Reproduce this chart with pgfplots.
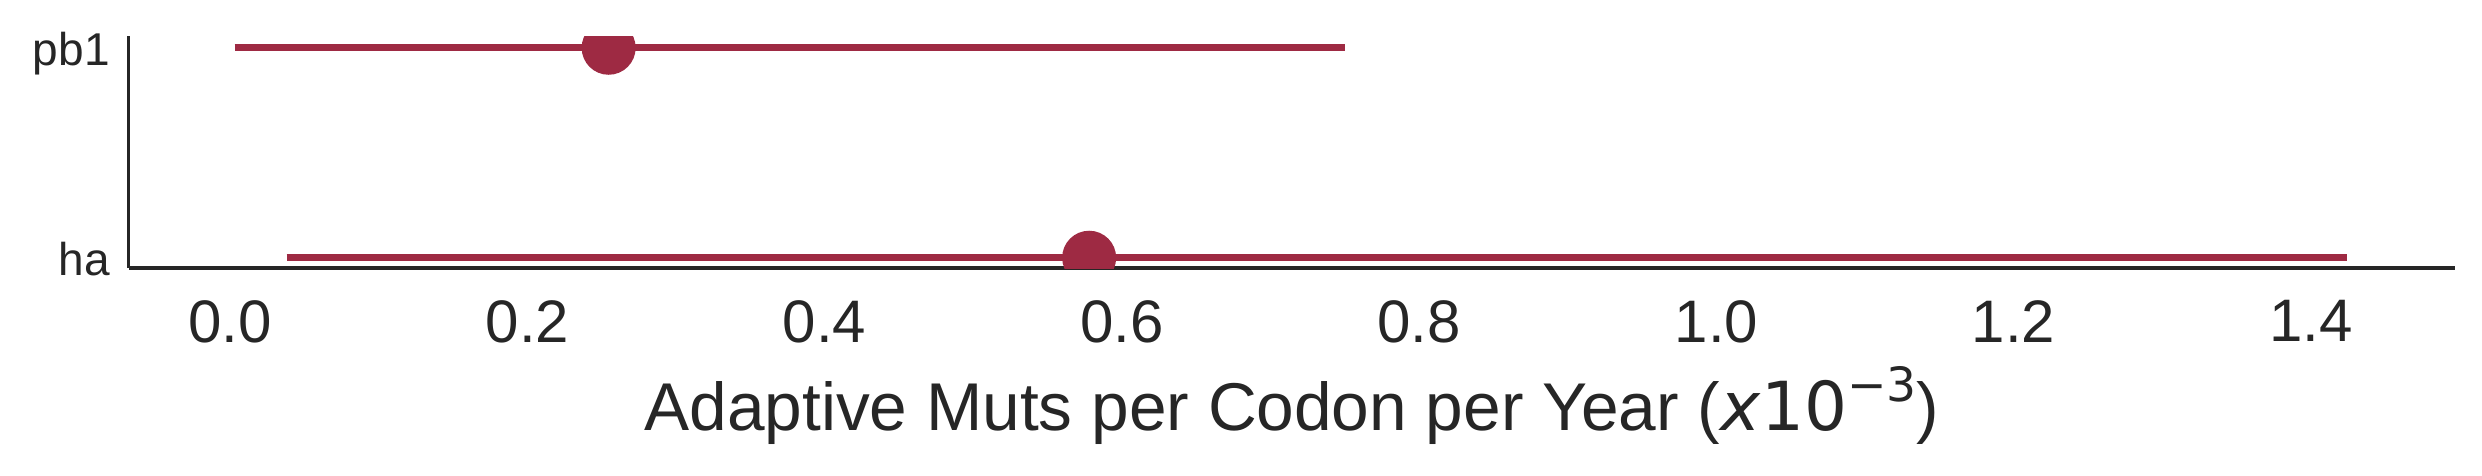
\documentclass[border=0pt]{standalone}
\usepackage{pgfplots}
\pgfplotsset{compat=1.18}
\usepackage{fontspec}
\setmainfont{Liberation Sans}
\newfontfamily\djv{DejaVu Sans}
\definecolor{crim}{RGB}{158,42,67}
\definecolor{txt}{RGB}{38,38,38}
\begin{document}
\begin{tikzpicture}
\path[use as bounding box] (-32.15pt,-51.75pt) rectangle (588.35pt,67pt);
\begin{axis}[
  at={(0,0)}, anchor=south west,
  scale only axis, width=581.6pt, height=58pt,
  xmin=-0.0683, xmax=1.497,
  ymin=-0.049, ymax=1.056,
  axis x line=bottom, axis y line=left,
  axis line style={-, txt, line width=0.9pt},
  major tick length=0pt,
  xtick={0,0.2,...,1.41},
  xticklabels={0.0,0.2,0.4,0.6,0.8,1.0,1.2,1.4},
  ytick={0,1}, yticklabels={ha,pb1},
  xticklabel style={font=\fontsize{15pt}{17pt}\selectfont, text=txt, yshift=-4.6pt},
  yticklabel style={font=\fontsize{11.5pt}{13pt}\selectfont, text=txt, anchor=base east, yshift=-4.5pt, xshift=-1.2pt},
  /pgf/number format/assume math mode=true,
  xlabel={Adaptive Muts per Codon per Year ({\djv\textit{x}10\raisebox{0.42em}{\fontsize{11.8pt}{12pt}\selectfont −3}})},
  xlabel style={at={(axis description cs:0.5,0)}, anchor=base, yshift=-40.5pt, font=\fontsize{16.9pt}{19pt}\selectfont, text=txt, inner sep=0pt},
  clip mode=individual,
  clip marker paths=true,
]
\addplot[color=crim, line width=1.65pt] coordinates {(0.003,1) (0.750,1)};
\addplot[color=crim, line width=1.65pt] coordinates {(0.038,0) (1.424,0)};
\addplot[color=crim, only marks, mark=*, mark size=6.75pt, mark options={color=crim, draw opacity=0}] coordinates {(0.2547,1) (0.578,0)};
\end{axis}
\end{tikzpicture}
\end{document}
